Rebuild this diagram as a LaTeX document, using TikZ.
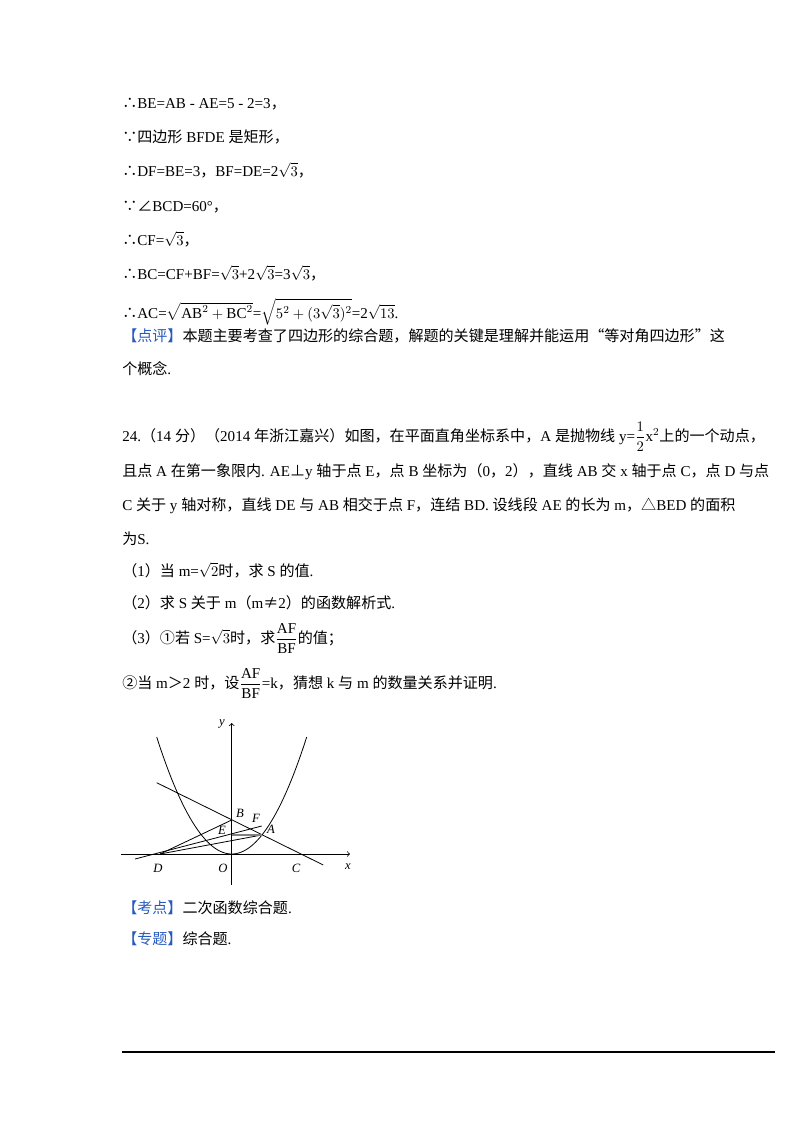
\documentclass[tikz,border=0pt]{standalone}
\usepackage{fontspec}
\usepackage{amsmath}
\setmainfont{Liberation Serif}
\newfontfamily\cjk{Noto Sans CJK SC}
\newcommand\z[1]{{\cjk #1}}
\definecolor{hdblue}{RGB}{40,90,190}
\tikzset{ln/.style={anchor=base west,inner sep=0pt,font=\fontsize{11.3}{13}\selectfont},
 lab/.style={font=\fontsize{9.5}{11}\selectfont\itshape,inner sep=0pt},
 gl/.style={line width=0.6pt}}
\begin{document}
\begin{tikzpicture}[x=0.75pt,y=-0.75pt]
\useasboundingbox (0,0) rectangle (800,1132);
\node[ln] (l1) at (122,108) {\z{∴}BE=AB - AE=5 - 2=3\z{，}};
\node[ln] (l2) at (122,142) {\z{∵四边形} BFDE \z{是矩形，}};
\node[ln] (l3) at (122,176) {\z{∴}DF=BE=3\z{，}BF=DE=2$\sqrt{3}$\z{，}};
\node[ln] (l4) at (122,211) {\z{∵∠}BCD=60°\z{，}};
\node[ln] (l5) at (122,245) {\z{∴}CF=$\sqrt{3}$\z{，}};
\node[ln] (l6) at (122,279) {\z{∴}BC=CF+BF=$\sqrt{3}$+2$\sqrt{3}$=3$\sqrt{3}$\z{，}};
\node[ln] (l7) at (122,318) {\z{∴}AC=$\sqrt{\mathrm{AB}^2+\mathrm{BC}^2}$=$\sqrt{5^2+(3\sqrt{3})^2}$=2$\sqrt{13}$.};
\node[ln] (l8) at (122,341) {\textcolor{hdblue}{\z{【点评】}}\z{本题主要考查了四边形的综合题，解题的关键是理解并能运用“等对角四边形”这}};
\node[ln] (l9) at (122,374) {\z{个概念}.};
\node[ln] (q0) at (122,441) {24.\z{（}14 \z{分）（}2014 \z{年浙江嘉兴）如图，在平面直角坐标系中，}A \z{是抛物线} y=$\dfrac{1}{2}$x$^2$\z{上的一个动点，}};
\node[ln] (q1) at (122,476) {\z{且点} A \z{在第一象限内}. AE\z{⊥}y \z{轴于点} E\z{，点} B \z{坐标为（}0\z{，}2\z{），直线} AB \z{交} x \z{轴于点} C\z{，点} D \z{与点}};
\node[ln] (q2) at (122,510) {C \z{关于} y \z{轴对称，直线} DE \z{与} AB \z{相交于点} F\z{，连结} BD. \z{设线段} AE \z{的长为} m\z{，△}BED \z{的面积}};
\node[ln] (q3) at (122,544) {\z{为}S.};
\node[ln] (q4) at (122,576) {\z{（}1\z{）当} m=$\sqrt{2}$\z{时，求} S \z{的值}.};
\node[ln] (q5) at (122,608) {\z{（}2\z{）求} S \z{关于} m\z{（}m\z{≠}2\z{）的函数解析式}.};
\node[ln] (q6) at (122,643) {\z{（}3\z{）①若} S=$\sqrt{3}$\z{时，求}$\dfrac{\mathrm{AF}}{\mathrm{BF}}$\z{的值；}};
\node[ln] (q7) at (122,688) {\z{②当} m\z{＞}2 \z{时，设}$\dfrac{\mathrm{AF}}{\mathrm{BF}}$=k\z{，猜想} k \z{与} m \z{的数量关系并证明}.};
\node[ln] (k1) at (122,913) {\textcolor{hdblue}{\z{【考点】}}\z{二次函数综合题}.};
\node[ln] (k2) at (122,944) {\textcolor{hdblue}{\z{【专题】}}\z{综合题}.};
% graph
\coordinate (O) at (231.7,854);
\coordinate (A) at (261.7,835);
\coordinate (E) at (231.7,835);
\coordinate (B) at (231.7,820);
\coordinate (C) at (305,854);
\coordinate (D) at (160,854);
\coordinate (xs) at (121,854);
\coordinate (xe) at (350,854);
\coordinate (ys) at (231.7,885);
\coordinate (ye) at (231.7,723);
\coordinate (bcs) at (156.7,782.7);
\coordinate (bce) at (323.3,865);
\coordinate (des) at (135,859);
\coordinate (dee) at (261.7,826);
\draw[gl,->] (xs) -- (xe);
\draw[gl,->] (ys) -- (ye);
\draw[gl] plot[domain=-75:75,samples=60] ({231.7+\x},{854-0.0208*\x*\x});
\draw[gl] (bcs) -- (bce);
\draw[gl] (des) -- (dee);
\draw[gl] (D) -- (A);
\draw[gl] (D) -- (B);
\draw[line width=1.4pt,gray] (E) -- (A);
\node[lab] at (222,724) {y};
\node[lab] at (348,867) {x};
\node[lab] at (240,813) {B};
\node[lab] at (256,818) {F};
\node[lab] at (222,830) {E};
\node[lab] at (271,829) {A};
\node[lab] at (158,868) {D};
\node[lab] at (223,868) {O};
\node[lab] at (296,868) {C};
\draw[line width=0.8pt] (122,1052) -- (775,1052);
\end{tikzpicture}
\end{document}
